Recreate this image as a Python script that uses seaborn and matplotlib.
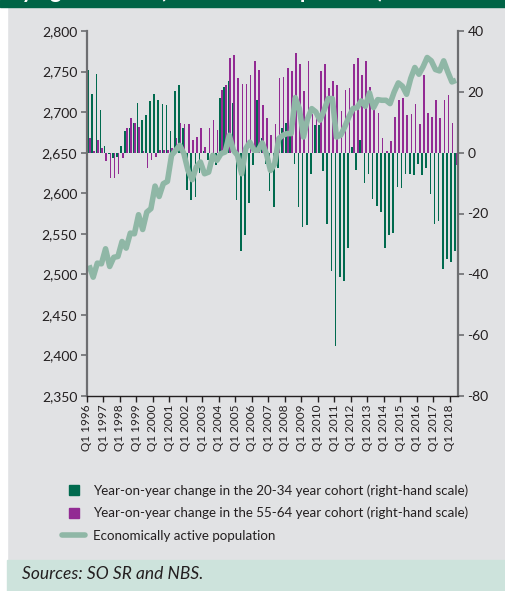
import matplotlib
matplotlib.use("Agg")
import matplotlib.pyplot as plt
from matplotlib.lines import Line2D
from matplotlib.patches import Rectangle
import seaborn as sns
import numpy as np
import pandas as pd

# quarterly data Q1 1996 - Q2 2018
quarters = [f"Q{q} {y}" for y in range(1996, 2019) for q in range(1, 5)][:90]

cohort_20_34 = [27.1, 19.2, 25.8, 14.0, 2.3, -0.5, -1.8, -1.4, 2.3, 7.0,
                8.0, 9.6, 16.3, 10.7, 12.3, 16.9, 19.2, 17.3, 15.9, 15.6,
                7.0, 20.2, 22.2, 8.2, -12.4, -15.7, -14.6, -6.7, 0.4, -2.5,
                -4.0, -4.2, 17.9, 21.5, 23.5, 16.3, -15.7, -32.4, -27.1, -16.6,
                -4.1, 17.3, 4.7, -3.8, -12.6, -17.9, -4.9, 8.0, 9.6, 5.7,
                -3.8, -17.9, -24.5, -23.8, -7.1, 9.0, 9.0, -6.0, -23.6, -38.8,
                -63.5, -41.0, -42.3, -31.5, 1.8, -5.8, 4.1, -10.0, -7.1, -15.1,
                -17.4, -19.6, -31.5, -27.1, -26.3, -11.3, -11.6, -7.1, -7.1, -7.5,
                -3.8, -7.5, -5.1, -13.7, -23.6, -22.6, -38.1, -34.8, -35.8, -32.2]

cohort_55_64 = [4.9, 0.5, 4.1, 1.4, -2.7, -8.4, -8.4, -7.1, -1.8, 8.0,
                11.3, 9.6, 8.5, 0.5, -5.1, -2.5, -1.4, 0.8, 0.8, 0.8,
                1.4, 4.7, 9.6, 9.3, 9.3, 4.1, 5.2, 8.0, 1.8, 8.0,
                10.7, 7.4, 20.5, 22.2, 31.1, 32.1, 24.5, 22.5, 22.5, 25.5,
                30.1, 27.1, 15.6, 11.3, 5.7, 9.3, 24.4, 24.8, 27.8, 26.8,
                32.7, 29.1, 20.2, 30.1, 12.6, 12.0, 26.8, 29.1, 21.2, 23.5,
                22.2, 13.7, 20.5, 21.2, 29.1, 31.1, 25.5, 30.1, 21.5, 14.5,
                13.0, 4.7, 0.4, 3.7, 11.6, 17.3, 17.9, 12.3, 12.6, 15.9,
                9.3, 25.5, 13.0, 11.6, 17.3, 11.3, 17.3, 18.9, 9.6, -4.2]

active_pop = [2511, 2496.5, 2513.8, 2513, 2531.5, 2509.7, 2521, 2522, 2540.5, 2532.3,
              2550.8, 2550, 2573.5, 2555.3, 2576.7, 2581, 2608.8, 2596, 2611.7, 2614.6,
              2646.7, 2652.9, 2659, 2648.8, 2628, 2616.7, 2632.3, 2638.5, 2624, 2626,
              2646.7, 2640.5, 2648.8, 2650.8, 2671.4, 2653, 2646.7, 2624, 2655, 2663,
              2653, 2653, 2662, 2648.8, 2628, 2636, 2667.3, 2671.4, 2673.5, 2673.5,
              2717.9, 2704.3, 2669.3, 2692, 2704.3, 2700.2, 2690, 2702.3, 2716.7, 2716.7,
              2669.3, 2671.4, 2681.7, 2694, 2704.3, 2705.6, 2713.8, 2707.2, 2723.7, 2705.6,
              2715.4, 2714.6, 2714.6, 2710.5, 2724.9, 2736, 2731.9, 2722, 2741.4, 2755,
              2746.7, 2755.8, 2767.3, 2763.2, 2752.5, 2750.8, 2763.2, 2749.6, 2737.2, 2739.3]

left_ticks = [2350, 2400, 2450, 2500, 2550, 2600, 2650, 2700, 2750, 2800]
right_ticks = [-80, -60, -40, -20, 0, 20, 40]

lab_young = "Year-on-year change in the 20-34 year cohort (right-hand scale)"
lab_old = "Year-on-year change in the 55-64 year cohort (right-hand scale)"
lab_pop = "Economically active population"
header = "by age cohorts (thousands of persons)"

GREEN = "#006a4e"
PURPLE = "#922b93"
SAGE = "#8fb7a6"
BG = "#e1e2e4"
TXT = "#231f20"

sns.set_style("white")
plt.rcParams["font.family"] = ["Lato", "DejaVu Sans"]

n = len(quarters)
pos = np.arange(n)
young = pd.DataFrame({"x": pos + 0.28, "value": cohort_20_34})
old = pd.DataFrame({"x": pos + 0.68, "value": cohort_55_64})
line = pd.DataFrame({"x": pos + 0.5, "value": active_pop})

fig = plt.figure(figsize=(5.06, 5.91), dpi=100, facecolor=BG)
W, H = 506, 591

# background bands
fig.patches.append(Rectangle((0, 0), 7 / W, 1, transform=fig.transFigure,
                             color="white", zorder=0))
fig.patches.append(Rectangle((0, 1 - 7 / H), 1, 7 / H, transform=fig.transFigure,
                             color="#006446", zorder=1))
fig.patches.append(Rectangle((7 / W, 0), 1 - 7 / W, 31 / H, transform=fig.transFigure,
                             color="#cde3dc", zorder=1))
# title is cropped at the top edge, only its lowest part shows in the band
fig.text(9 / W, 1 + 2 / H, header, color="white", fontsize=16,
         fontweight="bold", va="baseline", ha="left")

ax = fig.add_axes([87 / W, 1 - 396 / H, (457.7 - 87) / W, (396 - 31) / H])
ax2 = ax.twinx()

sns.barplot(data=young, x="x", y="value", native_scale=True, width=0.4,
            color=GREEN, saturation=1, errorbar=None, linewidth=0,
            antialiased=False, ax=ax2)
sns.barplot(data=old, x="x", y="value", native_scale=True, width=0.4,
            color=PURPLE, saturation=1, errorbar=None, linewidth=0,
            antialiased=False, ax=ax2)
sns.lineplot(data=line, x="x", y="value", color=SAGE, linewidth=4,
             solid_capstyle="butt", ax=ax)

ax.set_zorder(ax2.get_zorder() + 1)
ax.patch.set_visible(False)
ax2.patch.set_visible(False)

ax.set_xlim(0, 89.9)
ax.set_ylim(2350, 2800)
ax2.set_ylim(-80, 40)
ax.set_yticks(left_ticks)
ax.set_yticklabels([f"{v:,}" for v in left_ticks])
ax2.set_yticks(right_ticks)
ax2.set_yticklabels([str(v) for v in right_ticks])
ax.set_xticks(pos[::4])
ax.set_xticklabels(quarters[::4], rotation=90, fontsize=8.5, color=TXT)
ax.set_xlabel("")
ax.set_ylabel("")
ax2.set_xlabel("")
ax2.set_ylabel("")

for a in (ax, ax2):
    for s in a.spines.values():
        s.set_visible(False)
ax.spines["left"].set_visible(True)
ax.spines["left"].set_color("#6d6e71")
ax.spines["left"].set_linewidth(1.6)
ax.spines["bottom"].set_visible(True)
ax.spines["bottom"].set_color(TXT)
ax.spines["bottom"].set_linewidth(1.0)
ax2.spines["right"].set_visible(True)
ax2.spines["right"].set_color("#6d6e71")
ax2.spines["right"].set_linewidth(1.6)

ax.tick_params(axis="y", left=True, length=4, width=1.2, color="#6d6e71",
               labelsize=10, labelcolor=TXT, pad=3)
ax.tick_params(axis="x", bottom=True, length=4, width=1.0, color=TXT, pad=2)
ax2.tick_params(axis="y", right=True, length=4, width=1.2, color="#6d6e71",
                labelsize=10, labelcolor=TXT, pad=3)

handles = [
    Line2D([], [], marker="s", linestyle="none", markersize=7,
           markerfacecolor=GREEN, markeredgecolor=GREEN),
    Line2D([], [], marker="s", linestyle="none", markersize=7,
           markerfacecolor=PURPLE, markeredgecolor=PURPLE),
    Line2D([], [], color=SAGE, linewidth=4),
]
fig.legend(handles, [lab_young, lab_old, lab_pop], loc="upper left",
           bbox_to_anchor=(62 / W, 1 - 484 / H), frameon=False, fontsize=9.6,
           handlelength=1.75, handletextpad=0.55, labelspacing=0.78,
           borderpad=0, borderaxespad=0, labelcolor=TXT)

fig.text(22 / W, 12 / H, "Sources: SO SR and NBS.", fontsize=12.5,
         fontstyle="italic", color=TXT, va="baseline", ha="left")

fig.savefig("out.png", dpi=100, facecolor=BG)
